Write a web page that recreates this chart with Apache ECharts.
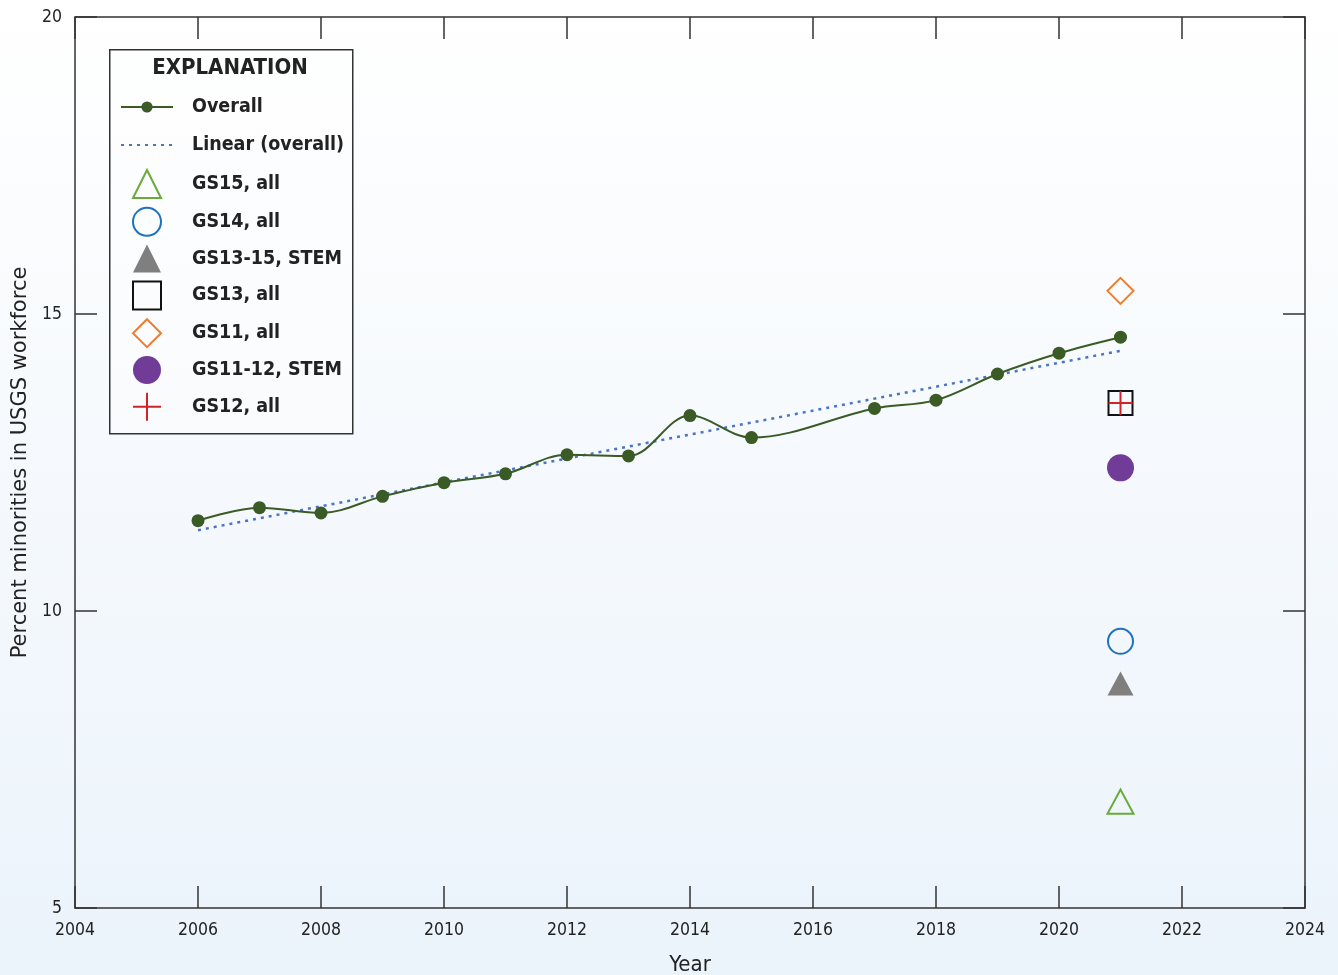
<!DOCTYPE html>
<html>
<head>
<meta charset="utf-8">
<script src="https://cdn.jsdelivr.net/npm/echarts@6/dist/echarts.min.js"></script>
<style>
html,body{margin:0;padding:0;background:#fff;}
#chart{width:1338px;height:975px;}
</style>
</head>
<body>
<div id="chart"></div>
<script>
// ---- data ----
const overallYears = [2006, 2007, 2008, 2009, 2010, 2011, 2012, 2013, 2014, 2015, 2017, 2018, 2019, 2020, 2021];
const overallValues = [11.52, 11.74, 11.65, 11.93, 12.16, 12.31, 12.63, 12.61, 13.29, 12.92, 13.41, 13.55, 13.99, 14.34, 14.61];
const trendYears = [2006, 2021];
const trendValues = [11.36, 14.38];
const gradeYear = 2021;
const gradeNames = ['GS15, all', 'GS14, all', 'GS13-15, STEM', 'GS13, all', 'GS11, all', 'GS11-12, STEM', 'GS12, all'];
const gradeValues = [6.79, 9.49, 8.78, 13.50, 15.39, 12.41, 13.50];
const xTicks = [2004, 2024, 2];
const yTicks = [5, 20, 5];

const FONT = "'DejaVu Sans Condensed', 'Liberation Sans Narrow', sans-serif";
const gradeStyles = [
  {symbol: 'triangle', size: [26, 24], itemStyle: {color: 'rgba(0,0,0,0)', borderColor: '#6aaa3a', borderWidth: 2}},
  {symbol: 'circle', size: 25, itemStyle: {color: 'rgba(0,0,0,0)', borderColor: '#1f73be', borderWidth: 2}},
  {symbol: 'triangle', size: [26, 24], itemStyle: {color: '#7f7f7f'}},
  {symbol: 'rect', size: 24, itemStyle: {color: 'rgba(0,0,0,0)', borderColor: '#111', borderWidth: 2}},
  {symbol: 'diamond', size: 26, itemStyle: {color: 'rgba(0,0,0,0)', borderColor: '#ee7d31', borderWidth: 2}},
  {symbol: 'circle', size: 27, itemStyle: {color: '#713c97'}},
  {symbol: 'path://M10,0 L10,20 M0,10 L20,10', size: 24, itemStyle: {color: 'rgba(0,0,0,0)', borderColor: '#d1232a', borderWidth: 2}}
];

const chart = echarts.init(document.getElementById('chart'), null, {renderer: 'canvas'});

const series = [
  {
    name: 'Overall', type: 'line', smooth: 0.35,
    data: overallYears.map((y, i) => [y, overallValues[i]]),
    symbol: 'circle', symbolSize: 13,
    lineStyle: {color: '#3a5a26', width: 2},
    itemStyle: {color: '#3a5a26', opacity: 1},
    z: 3
  },
  {
    name: 'Linear (overall)', type: 'line',
    data: trendYears.map((y, i) => [y, trendValues[i]]),
    symbol: 'none',
    lineStyle: {color: '#4a74c4', width: 2.5, type: [3, 5]},
    itemStyle: {color: '#4a74c4'},
    z: 2
  }
];
gradeNames.forEach((n, i) => {
  const st = gradeStyles[i];
  series.push({
    name: n, type: 'scatter',
    data: [[gradeYear, gradeValues[i]]],
    symbol: st.symbol, symbolSize: st.size, symbolKeepAspect: true,
    itemStyle: Object.assign({opacity: 1}, st.itemStyle),
    z: 4
  });
});

const axisLine = {show: true, lineStyle: {color: '#333', width: 1.5}};
const axisTick = {show: true, inside: true, length: 22, lineStyle: {color: '#333', width: 1.5}};

chart.setOption({
  animation: false,
  backgroundColor: {
    type: 'linear', x: 0, y: 0, x2: 0, y2: 1,
    colorStops: [{offset: 0, color: '#ffffff'}, {offset: 1, color: '#ebf3fb'}]
  },
  grid: {left: 75, right: 33, top: 17, bottom: 67, containLabel: false, outerBoundsMode: 'none'},
  xAxis: [
    {
      type: 'value', min: xTicks[0], max: xTicks[1], interval: xTicks[2],
      position: 'bottom',
      axisLine: axisLine, axisTick: axisTick, splitLine: {show: false},
      axisLabel: {color: '#222', fontFamily: FONT, fontSize: 17.5, margin: 13, formatter: v => String(v)},
      name: 'Year', nameLocation: 'middle', nameGap: 46,
      nameTextStyle: {color: '#222', fontFamily: FONT, fontSize: 22}
    },
    {
      type: 'value', min: xTicks[0], max: xTicks[1], interval: xTicks[2],
      position: 'top',
      axisLine: axisLine, axisTick: axisTick, splitLine: {show: false},
      axisLabel: {show: false}
    }
  ],
  yAxis: [
    {
      type: 'value', min: yTicks[0], max: yTicks[1], interval: yTicks[2],
      position: 'left',
      axisLine: axisLine, axisTick: axisTick, splitLine: {show: false},
      axisLabel: {color: '#222', fontFamily: FONT, fontSize: 17.5, margin: 13},
      name: 'Percent minorities in USGS workforce', nameLocation: 'middle', nameGap: 43,
      nameTextStyle: {color: '#222', fontFamily: "'DejaVu Sans', sans-serif", fontSize: 21}
    },
    {
      type: 'value', min: yTicks[0], max: yTicks[1], interval: yTicks[2],
      position: 'right',
      axisLine: axisLine, axisTick: axisTick, splitLine: {show: false},
      axisLabel: {show: false}
    }
  ],
  legend: [
    {
      data: ['Overall', {name: 'Linear (overall)', itemStyle: {color: 'rgba(0,0,0,0)', opacity: 0}}],
      orient: 'vertical', left: 120, top: 95, padding: 0,
      itemWidth: 52, itemHeight: 14, itemGap: 14,
      textStyle: {color: '#222', fontFamily: FONT, fontWeight: 'bold', fontSize: 19.5, lineHeight: 24, padding: [0, 0, 0, 14]}
    },
    {
      data: gradeNames,
      orient: 'vertical', left: 132, top: 169, padding: 0,
      itemWidth: 28, itemHeight: 28, itemGap: 7.8, symbolKeepAspect: true,
      textStyle: {color: '#222', fontFamily: FONT, fontWeight: 'bold', fontSize: 19.5, lineHeight: 24, padding: [0, 0, 0, 26]}
    }
  ],
  graphic: [
    {
      type: 'rect', left: 109, top: 49, z: 0,
      shape: {width: 243, height: 384},
      style: {fill: 'rgba(255,255,255,0.3)', stroke: '#333', lineWidth: 1.5}
    },
    {
      type: 'text', x: 230, y: 57, z: 5,
      style: {text: 'EXPLANATION', fill: '#222', font: "bold 22px " + FONT, textAlign: 'center', textVerticalAlign: 'top'}
    }
  ],
  series: series
});
</script>
</body>
</html>
